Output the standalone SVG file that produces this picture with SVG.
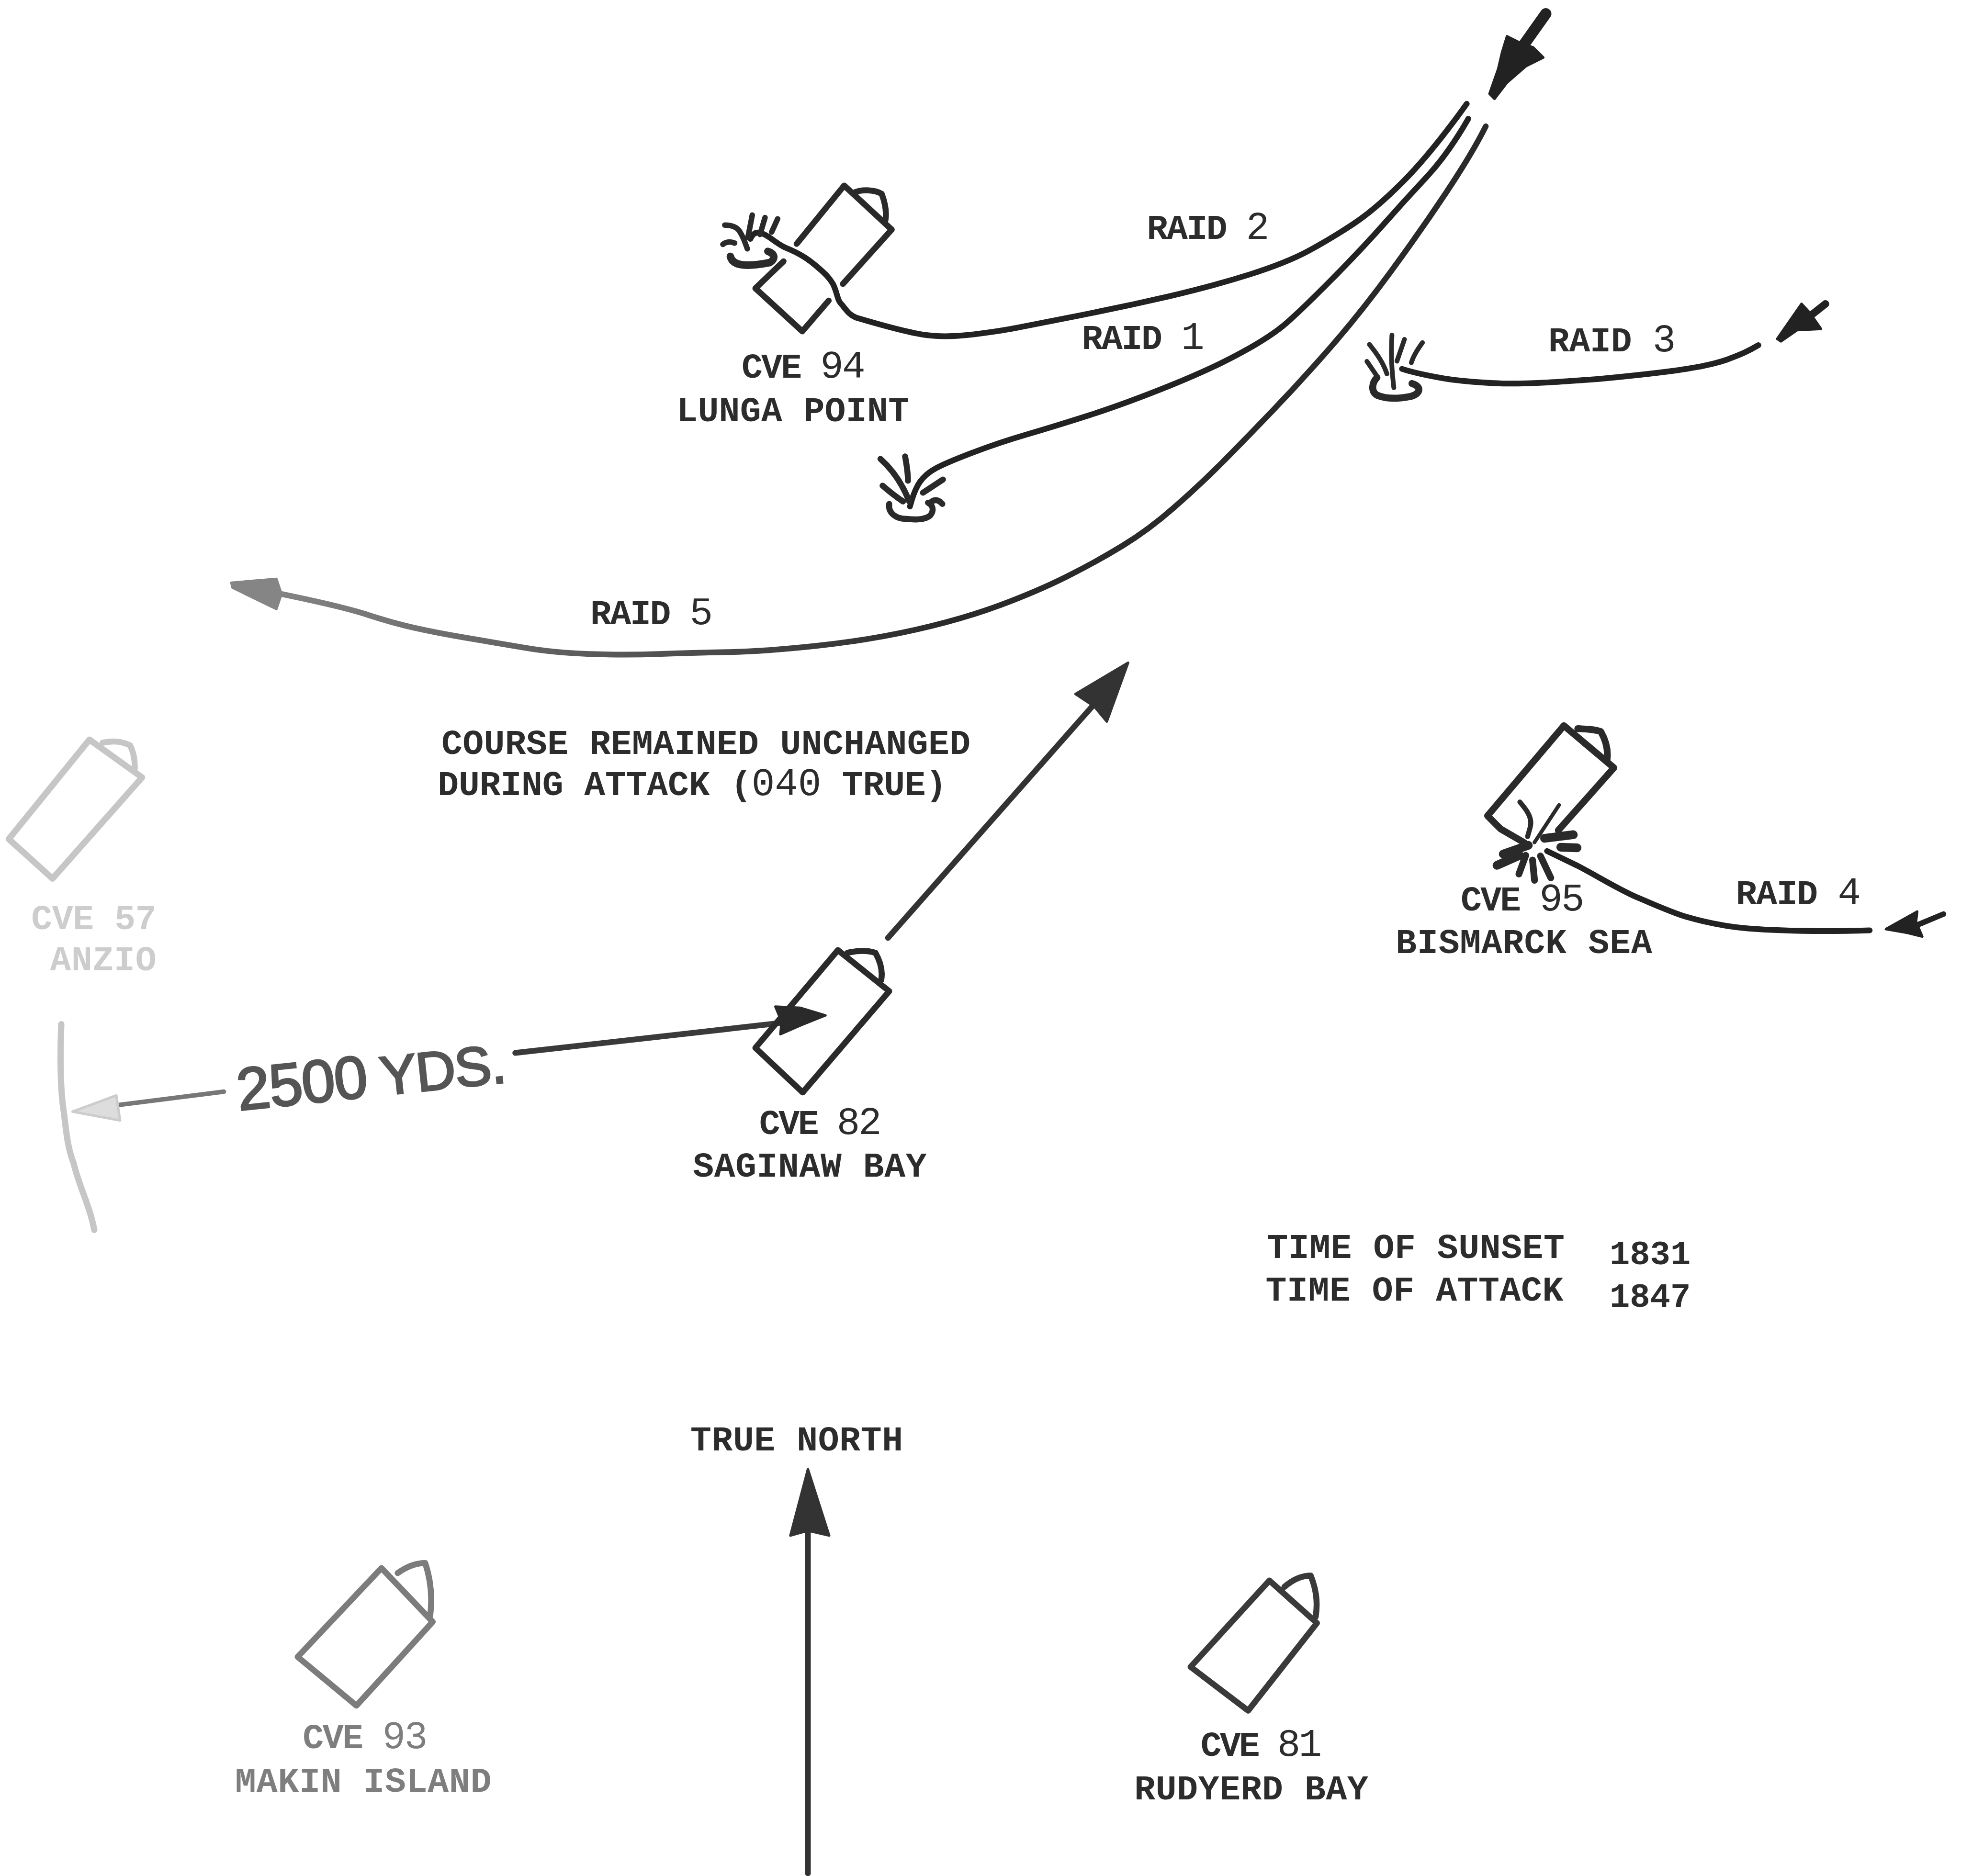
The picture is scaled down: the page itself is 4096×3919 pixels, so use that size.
<svg xmlns="http://www.w3.org/2000/svg" width="4096" height="3919" viewBox="0 0 4096 3919">
<defs>
<linearGradient id="fade" gradientUnits="userSpaceOnUse" x1="185" y1="0" x2="760" y2="0">
<stop offset="0" stop-color="#8a8a8a"/><stop offset="0.55" stop-color="#555"/><stop offset="1" stop-color="#2a2a2a"/>
</linearGradient>
</defs>
<style>
.l{fill:none;stroke:#222;stroke-width:4.6;stroke-linecap:round;stroke-linejoin:round}
.s{fill:none;stroke:#2a2a2a;stroke-width:4.8;stroke-linecap:round;stroke-linejoin:round}
.a{fill:#222;stroke:#222;stroke-width:2;stroke-linejoin:round}
.g1{stroke:#7c7c7c}
.g2{stroke:#c6c6c6}
text{font-family:"Liberation Mono","DejaVu Sans Mono",monospace;font-size:28px;font-weight:700;fill:#2c2c2c}
.d{font-weight:400;font-size:31px}
.n{font-weight:700;font-size:27px}
.tg1{fill:#7e7e7e}
.tg2{fill:#cdcdcd}
</style>
<rect width="4096" height="3919" fill="#ffffff"/>
<g transform="scale(2.61224)">
<g id="connectors">
<path id="raid2" class="l" d="M600 191C606 178 618 194 628 198C640 203 646 207 653 213C660 219 663 222 666 227C670 235 669 240 673.5 244C678 250 680 252 684.5 254Q725 266 740.8 268Q756.6 270 777.6 267.5Q798.6 265 813.8 262Q829 259 864.5 252Q900 245 935 236.9Q970 228.7 999.5 219.4Q1029 210 1046.5 200.5Q1064 191 1081.8 179.3Q1099.6 167.6 1121.8 145.3Q1144 123 1172.8 83"/>
<path id="raid1" class="l" d="M727.6 405Q731 392 735.5 385.5Q740 379 748.3 374.5Q756.6 370 777.6 362Q798.6 354 820.8 347.5Q843 341 871.5 331.9Q900 322.7 935 308.6Q970 294.5 993.5 281.5Q1017 268.6 1029 258Q1041 247.5 1064.5 223.8Q1088 200 1105.5 180.3Q1123 160.5 1140.5 141.8Q1158 123 1174 95"/>
<path id="raid5" class="l" style="stroke:url(#fade)" d="M1188 101Q1177 123 1156 154.5Q1135 186 1111.5 218Q1088 250 1064.5 277Q1041 304 1017.5 328.5Q994 353 976.3 370.8Q958.6 388.5 938.6 406Q918.6 423.7 897.3 436.6Q876 449.6 852.5 461.3Q829 473 799.5 484Q770 495 732.5 503.5Q695 512 652.5 516.5Q610 521 581.4 521.5Q552.8 522 526.4 523Q500 524 471.5 523Q443 522 419.5 518Q396 514 372.4 510Q348.8 506 331 502Q313.5 498 293.5 491.5Q273.6 485 225 475"/>
<path id="raid3" class="l" d="M1406 276C1396 282 1390 284 1380.6 287.7C1368 292 1355 294 1342 296C1320 299 1300 301 1279 303C1252 305 1227 307 1202 306.7C1184 306 1167 305 1151 302C1140 300 1130 298 1121 295"/>
<path id="raid4" class="l" d="M1237 680.6L1261.5 692.4C1278 701 1292 710 1308.5 717.4C1322 723 1335 729 1347.7 733C1365 738 1380 741 1397.5 742.5C1430 745 1462 745 1495 744"/>
<path id="arrow-top" class="l" style="stroke-width:9" d="M1236 11L1214 42"/>
<path id="arrow-raid3" class="l" style="stroke-width:6" d="M1459.6 243L1447 253"/>
<path id="arrow-raid4" class="l" style="stroke-width:4.4" d="M1554 731L1530 741"/>
<path id="course" class="l" style="stroke:#333" d="M710 750L875 563"/>
<path id="range-right" class="l" style="stroke:#3a3a3a" d="M412 842L625 818"/>
<path id="range-left" class="l" style="stroke:#777;stroke-width:3.6" d="M96 883.5L179 873"/>
<path id="range-mark" class="l g2" style="stroke-width:5" d="M49 819C48 845 48 870 51 889C53 905 54 918 58.8 930C63 948 72 965 75.4 983.6"/>
<path id="true-north-line" class="l" style="stroke:#333" d="M646 1498V1225"/>
<polygon class="a" points="1205,29 1215,34 1226,38 1234,46 1220,53 1205,66 1195,79 1191,75 1198,55 1201,42"/>
<polygon class="a" points="1421,271 1440.5,243 1447,250 1456,263 1437,264 1424,273"/>
<polygon class="a" points="1508,743 1533,729 1532,737 1537,749 1525,746"/>
<polygon class="a" style="fill:#858585;stroke:#858585" points="185,466 186,470 221,487 225,475 221,463"/>
<polygon class="a" style="fill:#333;stroke:#333" points="902,530 885,577 875,565 860,555"/>
<polygon class="a" style="fill:#2a2a2a;stroke:#2a2a2a" points="660,812 640,806 620,805 625,817 624,827 640,820"/>
<polygon class="a" style="fill:#ddd;stroke:#ccc" points="58,889 93,876 96,896"/>
<polygon class="a" style="fill:#333;stroke:#333" points="646,1175 663,1228 646,1224 632,1228"/>
</g>
<g id="cve94">
<path class="s" d="M637 195L675 148.4L713 183.6L674 227"/>
<path class="s" d="M683 154C690 151 700 152 705 155C708 163 709 170 708 176"/>
<path class="s" d="M626.5 209L604 230.6L641.5 265L662.6 240.4"/>
<path class="s" style="stroke-width:6" d="M584 205C586 214 600 213 615.6 210C620 207 620 203 614 201"/>
<path class="s" style="stroke-width:4.4" d="M579.5 180C586 180 590 182 592 186C595 191 596 195 597.6 199M601.5 172L598 190M611.7 174L607.7 187.5M621.8 175L617 185.6M578 195.4C581 193 584 193 587.4 194.4"/>
<text x="593" y="302" textLength="99">CVE <tspan class="d">94</tspan></text>
<text x="541" y="337" textLength="186">LUNGA POINT</text>
</g>
<g id="raid1-splash">
<path class="s" d="M711 403C710 410 716 415 725 415C734 416 741 415 744 412C747 408 746 404 742 402M745 401C748 399 751 400 753.5 403"/>
<path class="s" d="M704 367C714 376 722 388 727 401M723.7 365C725 372 726 378 726 384.4M705.7 388.4C711 393 716 397 722 401M754 383.5L738 394"/>
</g>
<g id="raid3-splash">
<path class="s" style="stroke-width:5.6" d="M1101 302C1097 306 1096 313 1101 316C1108 319 1118 319 1128 317C1136 315 1137 309 1129 306.7"/>
<path class="s" style="stroke-width:3.8" d="M1113 268C1112 285 1113 297 1114.5 310M1095 275.5C1101 283 1106 290 1109 299M1093 289L1100.5 300M1123 271.4L1117 288.8M1137.4 274C1133 280 1130 285 1128.5 290"/>
</g>
<g id="cve95">
<path class="s" style="stroke-width:5.4" d="M1246 664L1290.5 614L1250.5 580.3L1189.4 652.4L1200 663L1219 674"/>
<path class="s" style="stroke-width:5.4" d="M1261.5 582.7C1268 583 1274 583 1280 585C1284 592 1286 600 1285 607.7"/>
<path class="s" style="stroke-width:4" d="M1215.3 641.4C1220 647 1224 652 1224 658C1224 662 1222 666 1221.5 669"/>
<path class="s" style="stroke-width:3" d="M1246.6 643.8L1227 673.6"/>
<path class="s" style="stroke-width:7" d="M1235 670.4L1258 667.5M1248 677.5L1261 678M1222 676L1202 683M1215 684L1197 692"/>
<path class="s" style="stroke-width:5.4" d="M1220 684L1214.5 699M1225.4 687.7L1227 704M1231.7 684.5L1240 702"/>
<text x="1168" y="728" textLength="99">CVE <tspan class="d">95</tspan></text>
<text x="1116" y="762" textLength="205">BISMARCK SEA</text>
</g>
<g id="cve57">
<path class="s g2" style="stroke-width:5" d="M71.5 591.5L113.6 621.7L42 702.6L7 671Z"/>
<path class="s g2" d="M82 594C90 592 98 593 104 596C107 602 108 608 107.7 614.8"/>
<text class="tg2" x="25" y="743" textLength="100">CVE 57</text>
<text class="tg2" x="40" y="776" textLength="85">ANZIO</text>
</g>
<g id="cve82">
<path class="s" d="M670 759.8L711 792.7L641.8 873.6L604 838Z"/>
<path class="s" d="M677.6 762C686 760 694 760 700 762C704 769 706 776 704.6 783.8"/>
<text x="607" y="907" textLength="98">CVE <tspan class="d">82</tspan></text>
<text x="554" y="941" textLength="187">SAGINAW BAY</text>
</g>
<g id="cve93">
<path class="s g1" d="M305 1254L346 1297L285 1364L238 1325Z"/>
<path class="s g1" d="M318 1258C325 1253 333 1250 340 1250C344 1262 346 1276 344 1292"/>
<text class="tg1" x="242" y="1398" textLength="100">CVE <tspan class="d">93</tspan></text>
<text class="tg1" x="188" y="1433" textLength="205">MAKIN ISLAND</text>
</g>
<g id="cve81">
<path class="s" style="stroke:#3a3a3a" d="M1015 1264L1053 1298L998 1368L952 1333Z"/>
<path class="s" style="stroke:#3a3a3a" d="M1027 1269C1034 1263 1041 1260 1048 1260C1052 1270 1054 1280 1052 1293"/>
<text x="960" y="1404" textLength="97">CVE <tspan class="d">81</tspan></text>
<text x="907" y="1439" textLength="187">RUDYERD BAY</text>
</g>
<g id="labels">
<text x="917" y="191" textLength="98">RAID <tspan class="d">2</tspan></text>
<text x="865" y="279" textLength="98">RAID <tspan class="d">1</tspan></text>
<text x="1238" y="281" textLength="102">RAID <tspan class="d">3</tspan></text>
<text x="1388" y="723" textLength="100">RAID <tspan class="d">4</tspan></text>
<text x="472" y="499" textLength="98">RAID <tspan class="d">5</tspan></text>
<text x="353" y="603" textLength="423">COURSE REMAINED UNCHANGED</text>
<text x="350" y="636" textLength="407">DURING ATTACK (<tspan class="d">040</tspan> TRUE)</text>
<text x="1013" y="1006" textLength="238">TIME OF SUNSET</text>
<text x="1287" y="1011" class="n">1831</text>
<text x="1012" y="1040" textLength="238">TIME OF ATTACK</text>
<text x="1287" y="1045" class="n">1847</text>
<text x="552" y="1160" textLength="170">TRUE NORTH</text>
<text transform="translate(191 888) rotate(-6)" textLength="216" style="font-family:'Liberation Sans',Arial,sans-serif;font-size:44px;font-weight:400;fill:#555;stroke:#555;stroke-width:1.4"><tspan style="font-size:48px">2500</tspan> YDS.</text>
</g>
</g>
</svg>
